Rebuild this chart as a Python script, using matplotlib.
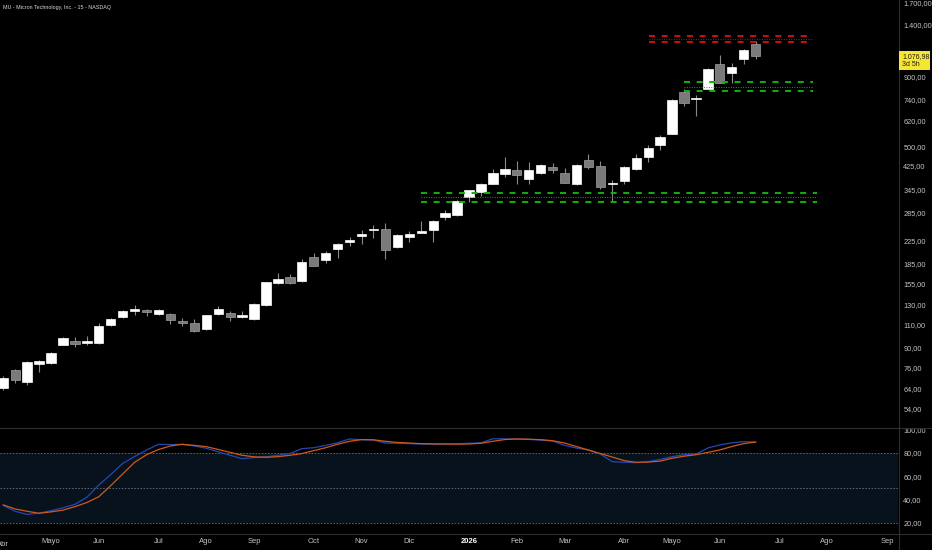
import matplotlib
matplotlib.use("Agg")
import matplotlib.pyplot as plt
from matplotlib.patches import Rectangle
from matplotlib.lines import Line2D
from matplotlib.ticker import NullLocator, FixedLocator
import numpy as np

# ---------------- data (weekly candles, first = week of 2025-04-07) ----------------
opens = [64.1, 74.6, 67.4, 78.4, 79.2, 92.3, 95.7, 94.1, 94.1, 109.2,
         117.1, 122.9, 124.6, 120.4, 120.4, 113.5, 111.6, 105.5, 120.4, 121.5,
         117.1, 115.2, 130.0, 155.9, 164.5, 159.0, 194.5, 190.1, 208.2, 222.0,
         232.5, 245.2, 246.6, 212.3, 231.1, 239.8, 245.2, 274.6, 277.9, 323.8,
         338.7, 363.5, 393.7, 409.4, 378.3, 399.1, 420.0, 399.1, 361.6, 444.6,
         423.6, 361.6, 371.0, 411.9, 456.0, 506.4, 555.9, 790.0, 744.6, 814.7,
         1002.5, 928.8, 1045.9, 1188.2]
highs = [71.0, 75.3, 80.5, 81.5, 87.0, 99.0, 98.8, 99.7, 111.0, 116.5,
         124.5, 129.3, 125.5, 125.5, 121.0, 116.1, 115.0, 119.5, 128.6, 123.6,
         122.9, 132.0, 158.0, 170.2, 168.8, 191.2, 201.3, 205.7, 219.0, 231.7,
         244.6, 255.9, 259.6, 237.0, 243.2, 264.8, 266.0, 290.0, 316.0, 345.0,
         366.6, 410.8, 454.9, 439.7, 436.0, 429.0, 433.5, 415.4, 429.0, 467.9,
         439.7, 375.1, 422.0, 467.9, 505.1, 548.4, 745.0, 812.5, 772.4, 973.9,
         1084.7, 1011.1, 1144.5, 1221.8]
lows = [63.0, 66.8, 65.7, 73.5, 78.5, 92.0, 91.0, 92.3, 93.5, 108.5,
        116.5, 119.5, 118.1, 119.5, 110.7, 108.5, 103.3, 105.0, 119.5, 113.5,
        115.8, 114.5, 128.6, 155.0, 154.6, 158.0, 180.0, 185.8, 192.9, 214.6,
        217.3, 228.6, 192.2, 211.0, 222.0, 239.0, 222.0, 267.7, 276.0, 310.3,
        327.4, 362.0, 383.8, 363.5, 363.5, 395.0, 398.1, 365.0, 358.0, 411.9,
        348.6, 311.1, 363.5, 407.3, 436.0, 483.9, 553.0, 703.4, 647.6, 812.0,
        853.0, 853.0, 1007.6, 1051.0]
closes = [69.7, 68.6, 79.9, 80.8, 86.2, 98.2, 93.3, 95.2, 108.5, 115.4,
          123.2, 125.0, 122.2, 124.3, 114.2, 111.0, 104.2, 118.8, 125.0, 117.1,
          119.1, 131.2, 157.2, 162.2, 156.3, 187.4, 180.6, 201.3, 218.3, 225.2,
          237.7, 247.9, 206.4, 235.7, 237.1, 243.2, 264.8, 283.4, 314.6, 343.6,
          361.6, 397.0, 412.9, 391.4, 409.4, 425.0, 408.3, 366.6, 425.0, 418.9,
          354.3, 365.7, 418.9, 451.0, 493.6, 540.5, 742.0, 719.7, 751.0, 963.2,
          855.3, 977.2, 1129.0, 1076.98]

# Stochastic-type oscillator (%K blue, %D orange), one value per candle
stoch_k = [35.0, 30.0, 27.3, 28.5, 30.5, 33.0, 36.0, 42.0, 52.5, 61.5,
           71.0, 77.0, 82.5, 87.4, 87.2, 87.4, 86.0, 84.0, 81.0, 78.0,
           75.1, 76.0, 76.7, 78.0, 79.5, 83.7, 84.5, 86.5, 88.8, 92.0,
           91.3, 91.0, 88.5, 88.4, 88.0, 87.6, 87.5, 87.6, 87.8, 88.3,
           88.7, 92.2, 92.1, 91.9, 91.6, 91.0, 90.3, 86.5, 84.2, 82.5,
           79.0, 72.5, 72.0, 71.7, 72.5, 74.5, 76.8, 78.5, 78.9, 84.3,
           86.9, 88.7, 89.7, 89.4]
stoch_d = [35.5, 32.0, 30.0, 28.3, 29.5, 31.0, 34.0, 37.5, 42.5, 52.0,
           62.0, 72.0, 78.5, 83.0, 86.0, 87.4, 86.5, 85.4, 83.0, 80.5,
           78.0, 76.7, 76.3, 76.8, 78.0, 79.5, 82.0, 84.5, 87.5, 90.0,
           91.5, 91.3, 90.0, 89.0, 88.5, 88.0, 87.8, 87.7, 87.6, 87.7,
           88.3, 90.0, 91.5, 92.0, 91.8, 91.4, 90.5, 88.5, 85.5, 82.5,
           79.5, 76.5, 73.4, 72.0, 72.2, 73.0, 75.5, 77.2, 78.5, 80.5,
           82.6, 85.5, 88.0, 89.4]

# horizontal levels: (price, start week, end week, color, style)
level_prices = [336.7, 323.8, 311.1, 860.3, 826.7, 801.0, 1275.0, 1242.8, 1214.8]
level_start = [35.0, 35.0, 35.0, 56.97, 56.97, 56.97, 54.03, 54.03, 54.03]
level_end = [68.1, 68.1, 68.1, 67.8, 67.8, 67.8, 67.8, 67.8, 67.8]
level_kind = ["dash", "dot", "dash"] * 3
level_color = ["#12b012"] * 6 + ["#c81010"] * 3

price_ticks = [54, 64, 76, 90, 110, 130, 155, 185, 225, 285, 345, 425, 500,
               620, 740, 900, 1400, 1700]
osc_ticks = [20, 40, 60, 80, 100]

month_pos = [0, 4, 8, 13, 17, 21, 26, 30, 34, 39, 43, 47, 52, 56, 60, 65, 69, 74]
month_lab = ["Abr", "Mayo", "Jun", "Jul", "Ago", "Sep", "Oct", "Nov", "Dic", "2026",
             "Feb", "Mar", "Abr", "Mayo", "Jun", "Jul", "Ago", "Sep"]

title = "MU - Micron Technology, Inc. - 15 - NASDAQ"
last_label = "1.076,98\n3d 5h"

# ---------------- helpers ----------------
def es_fmt(v):
    s = f"{v:,.2f}"
    return s.replace(",", "X").replace(".", ",").replace("X", ".")

W, H = 932, 550
BG = "#000000"
TXT = "#c3c3c3"
fig = plt.figure(figsize=(W / 100, H / 100), dpi=100, facecolor=BG)

def px_axes(x0, y0, x1, y1):
    return fig.add_axes([x0 / W, 1 - y1 / H, (x1 - x0) / W, (y1 - y0) / H])

AXR = 898
ax = px_axes(0, 0, AXR, 427)
osc = px_axes(0, 428, AXR, 533)
XL = (-0.274, 74.92)

for a in (ax, osc):
    a.set_facecolor(BG)
    for s in a.spines.values():
        s.set_visible(False)
    a.set_xlim(*XL)

# ---------------- candles ----------------
n = len(closes)
x = np.arange(n)
o = np.array(opens); c = np.array(closes); h = np.array(highs); l = np.array(lows)
up = c >= o
wick_col = "#8a8a8a"
ax.vlines(x, l, h, colors=wick_col, linewidth=0.8, zorder=2)
bottom = np.minimum(o, c)
height = np.abs(c - o)
ax.bar(x[up], height[up], bottom=bottom[up], width=0.78, color="#ffffff",
       edgecolor="#ffffff", linewidth=0.5, zorder=3)
ax.bar(x[~up], height[~up], bottom=bottom[~up], width=0.78, color="#7a7a7a",
       edgecolor="#a0a0a0", linewidth=0.5, zorder=3)

ax.set_yscale("log")
ax.set_ylim(46.0, 1731)

# levels
for p, s0, s1, kind, col in zip(level_prices, level_start, level_end, level_kind, level_color):
    if kind == "dash":
        ax.hlines(p, s0, s1, colors=col, linewidth=1.4, linestyles=(0, (3.1, 3.4)), zorder=4)
    else:
        ax.hlines(p, s0, s1, colors=col, linewidth=0.8, linestyles=(0, (0.8, 1.4)), zorder=4)

# price axis
ax.yaxis.tick_right()
ax.yaxis.set_major_locator(FixedLocator(price_ticks))
ax.yaxis.set_minor_locator(NullLocator())
ax.set_yticklabels([es_fmt(v) for v in price_ticks])
ax.tick_params(axis="y", length=0, pad=3.8, labelsize=5.3, labelcolor=TXT)
ax.set_xticks([])
for t in ax.get_yticklabels():
    t.set_fontfamily("Liberation Sans")

# ---------------- oscillator ----------------
osc.set_ylim(11.4, 101.4)
osc.fill_between(XL, 20, 80, color="#07121c", zorder=1, linewidth=0)
osc.hlines([80, 50, 20], XL[0], XL[1], colors="#5d6470", linewidth=0.7,
           linestyles=(0, (1.6, 1.6)), zorder=2)
osc.plot(x, stoch_k, color="#2646b4", linewidth=0.9, zorder=3)
osc.plot(x, stoch_d, color="#d05a18", linewidth=0.9, zorder=4)
osc.yaxis.tick_right()
osc.set_yticks(osc_ticks)
osc.set_yticklabels([es_fmt(v) for v in osc_ticks])
osc.tick_params(axis="y", length=0, pad=3.8, labelsize=5.3, labelcolor=TXT)
for t in osc.get_yticklabels():
    t.set_fontfamily("Liberation Sans")

# time axis
osc.set_xticks(month_pos[1:])
osc.set_xticklabels(month_lab[1:])
osc.tick_params(axis="x", length=0, pad=3.6, labelsize=5.5, labelcolor=TXT)
for t in osc.get_xticklabels():
    t.set_fontfamily("Liberation Sans")
    if t.get_text() == "2026":
        t.set_color("#ffffff")
        t.set_fontweight("bold")
osc.text(month_pos[0], -0.08, month_lab[0], transform=osc.get_xaxis_transform(),
         ha="center", va="top", fontsize=5.5, color=TXT, clip_on=False,
         fontfamily="Liberation Sans")

# ---------------- separators ----------------
sep = "#2e2e2e"
fig.add_artist(Line2D([0, 1], [1 - 427.5 / H] * 2, transform=fig.transFigure, color=sep, lw=0.8))
fig.add_artist(Line2D([0, 1], [1 - 533.5 / H] * 2, transform=fig.transFigure, color=sep, lw=0.8))
fig.add_artist(Line2D([(AXR + 0.5) / W] * 2, [0, 1], transform=fig.transFigure, color=sep, lw=0.8))

# ---------------- title ----------------
fig.text(3 / W, 1 - 7.5 / H, title, fontsize=3.9, color="#d8d8d8", ha="left", va="center",
         fontfamily="Liberation Sans")

# ---------------- last price label ----------------
fig.canvas.draw()
ypix = ax.transData.transform((0, closes[-1]))[1]   # from bottom, pixels
box_top = ypix + 4.5
box_h = 19
fig.add_artist(Rectangle(((AXR + 1) / W, (box_top - box_h) / H), 31 / W, box_h / H,
                         transform=fig.transFigure, facecolor="#f7e631", edgecolor="none",
                         zorder=10))
fig.text((AXR + 4) / W, (box_top - 1.5) / H, last_label, fontsize=5.0, color="#1a1a1a",
         ha="left", va="top", linespacing=1.25, zorder=11, fontfamily="Liberation Sans")

fig.savefig("out.png", dpi=100, facecolor=BG)
